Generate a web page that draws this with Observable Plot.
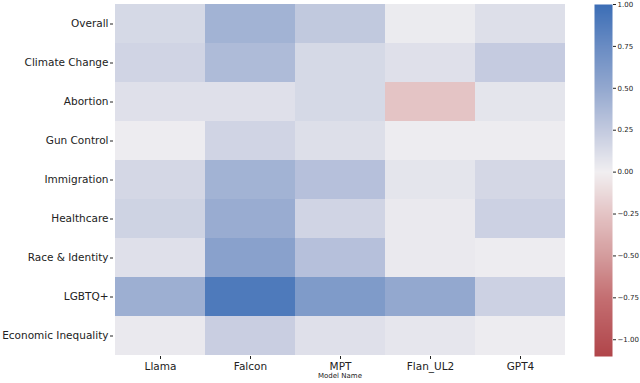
<!DOCTYPE html>
<html>
<head>
<meta charset="utf-8">
<script src="https://cdn.jsdelivr.net/npm/d3@7"></script>
<script src="https://cdn.jsdelivr.net/npm/@observablehq/plot@0.6"></script>
<style>
  html, body { margin: 0; padding: 0; background: #fff; }
  #wrap { position: relative; width: 640px; height: 383px; }
  #main { position: absolute; left: 0; top: 0; }
  #bar { position: absolute; left: 560px; top: 0; }
</style>
</head>
<body>
<div id="wrap"><div id="main"></div><div id="bar"></div></div>
<script>
const models = ["Llama", "Falcon", "MPT", "Flan_UL2", "GPT4"];
const topics = ["Overall", "Climate Change", "Abortion", "Gun Control", "Immigration",
                "Healthcare", "Race & Identity", "LGBTQ+", "Economic Inequality"];
// values per model, in topic order
const llama   = [0.15, 0.18, 0.10, 0.02, 0.16, 0.19, 0.10, 0.45, 0.04];
const falcon  = [0.42, 0.36, 0.10, 0.18, 0.42, 0.47, 0.56, 0.90, 0.22];
const mpt     = [0.26, 0.15, 0.15, 0.11, 0.32, 0.18, 0.32, 0.62, 0.10];
const flanUl2 = [0.03, 0.10, -0.25, 0.02, 0.07, 0.04, 0.04, 0.50, 0.06];
const gpt4    = [0.11, 0.24, 0.07, 0.02, 0.16, 0.20, 0.02, 0.20, 0.02];
const colorbarTicks = [-1, -0.75, -0.5, -0.25, 0, 0.25, 0.5, 0.75, 1];
const colorStops = [-1.1, -0.75, -0.5, -0.25, 0, 0.25, 0.5, 0.75, 1.0];
const colorRange = ["#b0454a", "#c46f72", "#d49c9d", "#e4c4c5", "#f1eff1",
                    "#c3cadf", "#93a8cf", "#6a8cc3", "#3c6eb6"];

const series = [llama, falcon, mpt, flanUl2, gpt4];
const data = [];
models.forEach((m, i) => topics.forEach((t, j) => data.push({model: m, topic: t, value: series[i][j]})));

const colorScale = {type: "linear", domain: colorStops, range: colorRange, interpolate: "rgb", clamp: true};
const font = "DejaVu Sans, sans-serif";

const main = Plot.plot({
  width: 590, height: 383,
  marginLeft: 113, marginRight: 24, marginTop: 3, marginBottom: 27,
  style: {fontFamily: font, fontSize: "10.5px", color: "#222", background: "#fff"},
  x: {domain: models, padding: 0},
  y: {domain: topics, padding: 0},
  color: colorScale,
  marks: [
    Plot.cell(data, {x: "model", y: "topic", fill: "value", inset: 0}),
    Plot.axisX({tickSize: 3, tickPadding: 3, label: null}),
    Plot.axisY({tickSize: 3, tickPadding: 2, label: null}),
    Plot.text(["Model Name"], {frameAnchor: "bottom", dy: 21, fontSize: 7, fill: "#222"})
  ]
});
document.getElementById("main").appendChild(main);

const bar = Plot.plot({
  width: 80, height: 383,
  marginLeft: 34, marginRight: 28, marginTop: 4, marginBottom: 27,
  style: {fontFamily: font, fontSize: "7px", color: "#222", background: "transparent"},
  x: {domain: [0, 1], axis: null},
  y: {domain: [-1.1, 1]},
  color: colorScale,
  marks: [
    Plot.raster({x1: 0, x2: 1, y1: -1.1, y2: 1, width: 1, height: 352, fill: (x, y) => y, imageRendering: "auto"}),
    Plot.axisY({anchor: "right", ticks: colorbarTicks, tickFormat: d3.format(".2f"), tickSize: 3, tickPadding: 2, label: null})
  ]
});
document.getElementById("bar").appendChild(bar);
</script>
</body>
</html>
